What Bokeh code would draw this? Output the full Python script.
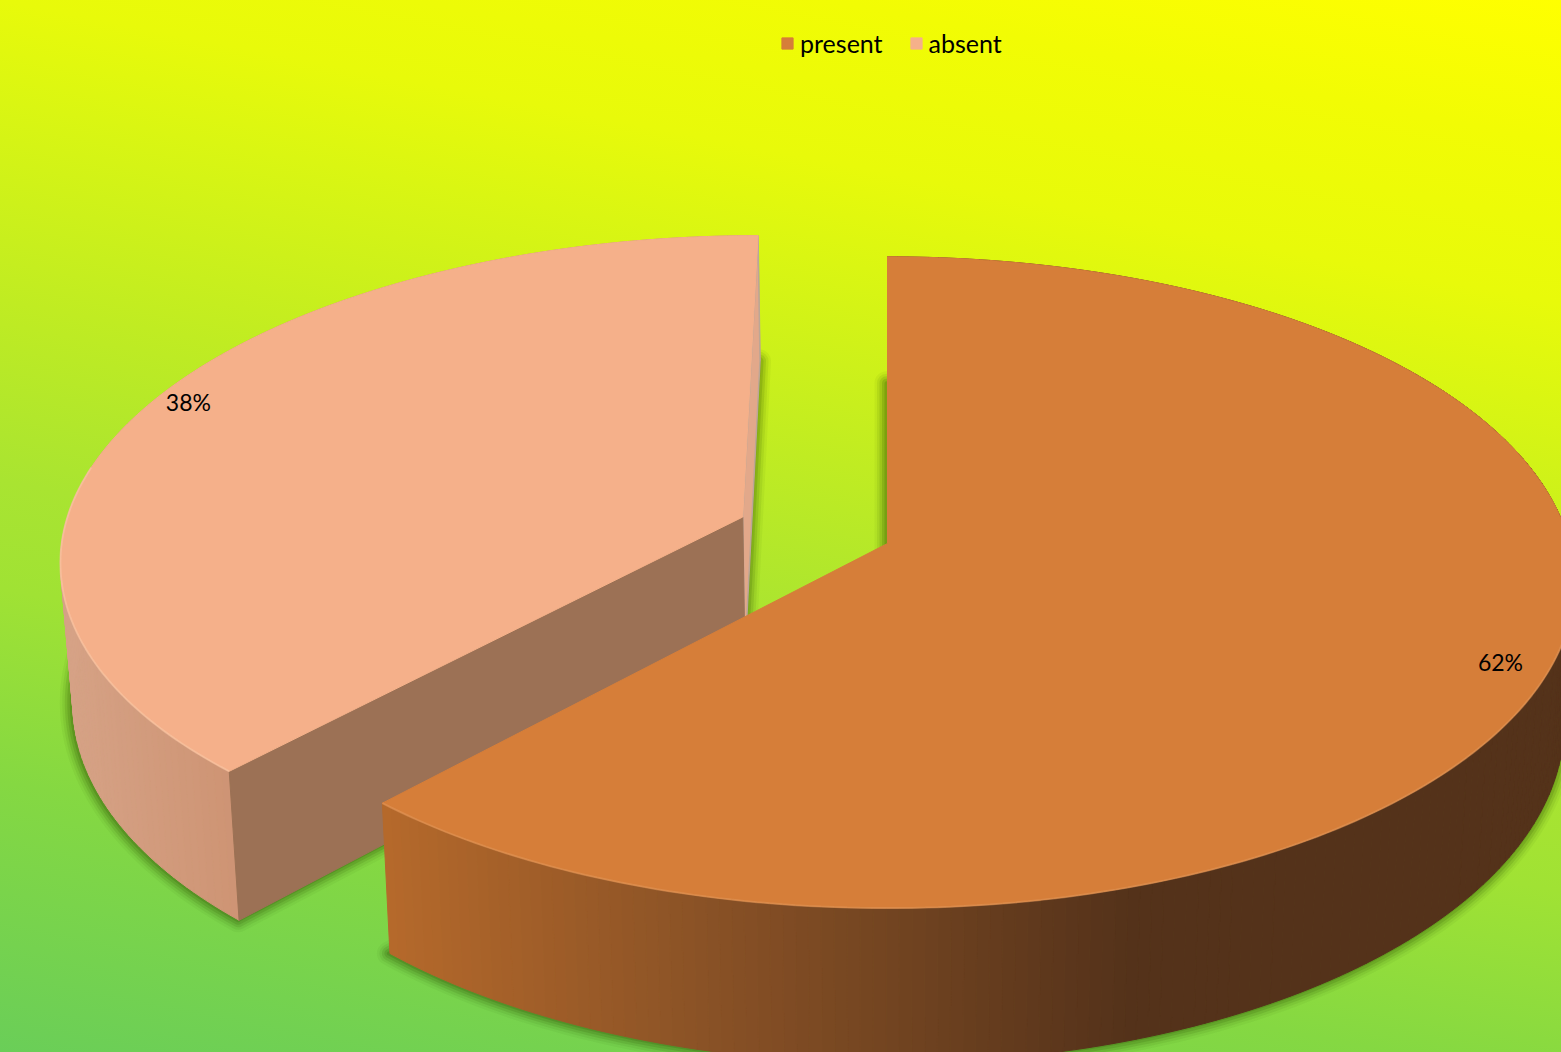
import numpy as np
from bokeh.plotting import figure
from bokeh.models import Legend, LegendItem
from bokeh.core.properties import value
from bokeh.embed import file_html
from bokeh.resources import INLINE

categories = ["present", "absent"]
percent = [61.8, 38.2]
explode = [0.0, 0.23]
top_colors = ["#D67E39", "#F5B08A"]
rim_light = ["#E39A5E", "#FBCBAC"]
cut_color = "#9C7155"
side_stops_x = [[385, 700, 1130, 1561], [60, 230, 240, 250]]
side_stops_c = [["#B5692B", "#8A5226", "#54321A", "#54321A"],
                ["#D6A286", "#CE9474", "#CE9474", "#CE9474"]]
thin_color = "#E2A88A"
shadow_color = "#2A4A00"
label_nudge_x = [-3, 3]
label_nudge_y = [6, -13]

FONT = "Lato"
W, H = 1561, 1052
CX, A, K, S = 887.0, 682.0, 0.1196, 0.985
YT, HT, YB, HB = 543.0, 321.0, 682.0, 335.0


def proj(u, v, bottom=False):
    u, v = np.asarray(u, float), np.asarray(v, float)
    d = 1 + K * v
    if bottom:
        return CX + S * A * u / d, YB - HB * v / d
    return CX + A * u / d, YT - HT * v / d


def hex2rgb(c):
    return np.array([int(c[i:i + 2], 16) for i in (1, 3, 5)], float)


def color_at(x, xs, cs):
    rgb = np.array([hex2rgb(c) for c in cs])
    vals = [np.interp(x, xs, rgb[:, j]) for j in range(3)]
    return "#%02x%02x%02x" % tuple(int(round(t)) for t in vals)


p = figure(width=W, height=H, x_range=(0, W), y_range=(H, 0),
           output_backend="svg", toolbar_location=None, min_border=0,
           background_fill_color=None, border_fill_color=None, outline_line_color=None)
p.axis.visible = False
p.grid.visible = False
p.styles = {"background": "linear-gradient(191deg,#FFFF00 0%,#F2FC04 10.5%,#E8FA0A 22.4%,"
                          "#DAF612 29.8%,#C0EC22 44.5%,#A9E431 57.8%,#A0E234 65.8%,"
                          "#85D842 80%,#6ACE58 100%)"}

# slice geometry, clockwise from 12 o'clock, from the percentages
total = sum(percent)
starts = np.cumsum([0] + percent[:-1]) / total * 2 * np.pi
sweeps = np.array(percent) / total * 2 * np.pi
geom = []
for st, sw, ex in zip(starts, sweeps, explode):
    mid = st + sw / 2
    du, dv = ex * np.sin(mid), ex * np.cos(mid)
    t = np.linspace(st, st + sw, max(60, int(sw * 60)))
    geom.append(dict(mid=mid, du=du, dv=dv, t=t,
                     u=du + np.sin(t), v=dv + np.cos(t)))

# soft shadows round the base of both slices
for g in geom:
    bx, by = proj(np.r_[g["du"], g["u"], g["du"]], np.r_[g["dv"], g["v"], g["dv"]], bottom=True)
    for lw, al in ((24, 0.05), (19, 0.08), (14, 0.12), (9, 0.15), (4, 0.18)):
        p.line(bx - 1, by, line_width=lw, line_color=shadow_color, line_alpha=al, line_join="round")

# draw absent first so that present overlaps it
legend_renderers = {}
for i in (1, 0):
    g = geom[i]
    # outer wall, one narrow strip per step so that it can shade by x
    tx, ty = proj(g["u"], g["v"])
    bx, by = proj(g["u"], g["v"], bottom=True)
    xs, ys, cols = [], [], []
    for j in range(len(tx) - 1):
        xs.append([tx[j], tx[j + 1], bx[j + 1], bx[j]])
        ys.append([ty[j], ty[j + 1], by[j + 1], by[j]])
        cols.append(color_at((tx[j] + tx[j + 1]) / 2, side_stops_x[i], side_stops_c[i]))
    p.patches(xs, ys, fill_color=cols, line_color=cols, line_width=1)

    ax, ay = proj(g["du"], g["dv"])
    abx, aby = proj(g["du"], g["dv"], bottom=True)
    if i == 1:
        # thin wall under the slice's 12 o'clock edge
        p.patch([tx[-1], ax, abx, bx[-1]], [ty[-1], ay, aby, by[-1]],
                fill_color=thin_color, line_color="#BCA697", line_width=1.5)
        # cut wall towards the viewer, from the apex to the front corner
        p.patch([ax, tx[0], bx[0], abx], [ay, ty[0], by[0], aby],
                fill_color=cut_color, line_color=cut_color, line_width=1)

    r = p.patch(np.r_[ax, tx], np.r_[ay, ty], fill_color=top_colors[i],
                line_color=top_colors[i], line_width=1)
    legend_renderers[categories[i]] = r
    # highlight along the front of the rim
    front = g["v"] < 0.25 if i == 1 else g["v"] < 0.0
    p.line(tx[front], ty[front], line_color=rim_light[i], line_width=2, line_alpha=0.5)

# data labels on each slice's bisector
lx, ly, lt = [], [], []
for g, pc, ndx, ndy in zip(geom, percent, label_nudge_x, label_nudge_y):
    u = g["du"] + 0.93 * np.sin(g["mid"])
    v = g["dv"] + 0.93 * np.cos(g["mid"])
    x, y = proj(u, v)
    lx.append(float(x) + ndx); ly.append(float(y) + ndy); lt.append(f"{round(pc)}%")
p.text(lx, ly, text=lt, text_font=value(FONT), text_font_size="23px", text_color="black",
       text_align="center", text_baseline="middle")

legend = Legend(items=[LegendItem(label=c, renderers=[legend_renderers[c]]) for c in categories],
                orientation="horizontal", location=(772, H - 66),
                background_fill_alpha=0, border_line_alpha=0,
                label_text_font=FONT, label_text_font_size="25px", label_text_color="black",
                glyph_width=14, glyph_height=14, spacing=26, padding=8, margin=0, label_standoff=6)
p.add_layout(legend, "center")

open("out.html", "w").write(file_html(p, INLINE))
